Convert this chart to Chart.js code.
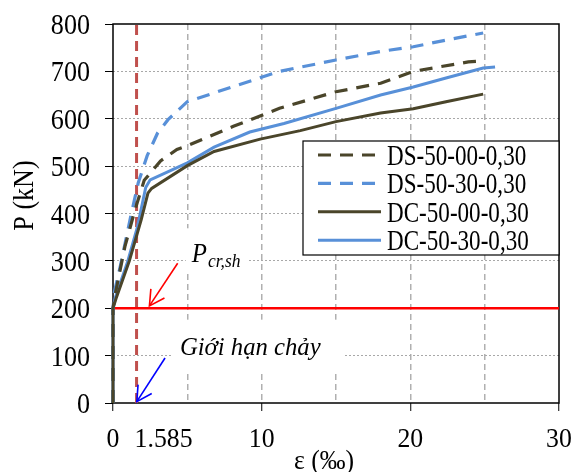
<!DOCTYPE html>
<html>
<head>
<meta charset="utf-8">
<script src="https://cdn.jsdelivr.net/npm/chart.js@4.4.1/dist/chart.umd.min.js"></script>
<style>
  html, body { margin: 0; padding: 0; background: #fff; }
</style>
</head>
<body>
<canvas id="pChart" width="575" height="472"></canvas>
<script>
// strain (‰) and load (kN)
const epsDS5000 = [0, 0, 0.15, 0.8, 1.5, 2.1, 3.2, 4.3, 5, 8.1, 11.2, 15, 18, 20.2, 23.9, 24.8];
const loadDS5000 = [0, 200, 230, 330, 410, 470, 511, 535, 543, 584, 622, 657, 675, 700, 720, 722];

const epsDS5030 = [0, 0, 0.1, 0.5, 1.2, 1.7, 2.3, 3, 3.7, 5, 8.1, 11.2, 15, 18, 20.2, 22.4, 24.9];
const loadDS5030 = [0, 200, 235, 290, 395, 465, 522, 570, 598, 636, 668, 700, 724, 742, 752, 766, 781];

const epsDC5000 = [0, 0, 0.2, 1.1, 1.9, 2.35, 2.6, 5, 6.8, 9.9, 12.6, 15, 18, 20.2, 22.4, 24.9];
const loadDC5000 = [0, 200, 220, 300, 387, 443, 453, 501, 531, 557, 575, 594, 612, 621, 636, 652];

const epsDC5030 = [0, 0, 0.15, 1.0, 1.63, 2.2, 2.5, 5, 6.8, 9.2, 11.5, 15, 18, 20.2, 22.4, 24.9, 25.7];
const loadDC5030 = [0, 200, 222, 300, 370, 455, 471, 507, 540, 572, 590, 622, 650, 667, 686, 707, 709];

const seriesNames = ["DS-50-00-0,30", "DS-50-30-0,30", "DC-50-00-0,30", "DC-50-30-0,30"];

const yieldStrain = 1.585;   // red dashed line
const crackLoad = 200;       // P_cr,sh red line

const yTicks = [0, 100, 200, 300, 400, 500, 600, 700, 800];
const xGridAt = [0, 5, 10, 15, 20, 25, 30];
const xTickLabels = [0, 10, 20, 30];

const serif = '"Liberation Serif", "Times New Roman", serif';
const darkCol = "#4a452a";
const blueCol = "#5890d8";

function pts(xs, ys) {
    return xs.map((x, i) => ({ x: x, y: ys[i] }));
}

function putText(ctx, txt, x, y, font, align, sx, color) {
    ctx.save();
    ctx.font = font;
    ctx.fillStyle = color || "#000";
    ctx.textAlign = align;
    ctx.textBaseline = "alphabetic";
    ctx.translate(x, y);
    ctx.scale(sx, 1);
    ctx.fillText(txt, 0, 0);
    ctx.restore();
}

function arrow(ctx, x1, y1, x2, y2, color) {
    ctx.save();
    ctx.strokeStyle = color;
    ctx.lineWidth = 1.6;
    ctx.beginPath();
    ctx.moveTo(x1, y1);
    ctx.lineTo(x2, y2);
    ctx.stroke();
    const a = Math.atan2(y2 - y1, x2 - x1), L = 17, w = 0.5;
    ctx.beginPath();
    ctx.moveTo(x2 - L * Math.cos(a - w), y2 - L * Math.sin(a - w));
    ctx.lineTo(x2, y2);
    ctx.lineTo(x2 - L * Math.cos(a + w), y2 - L * Math.sin(a + w));
    ctx.stroke();
    ctx.restore();
}

// annotation labels (data units), the white box hides the grid behind them
const notes = [
    { x: 5.3, y: 297, padL: 6, padR: 8, up: 34, down: 10 },
    { x: 4.5, y: 102, padL: 8, padR: 24, up: 35, down: 17 }
];
const arrows = [
    { from: [4.35, 295], to: [2.45, 205], color: "#ff0000" },
    { from: [3.5, 95], to: [1.6, 3], color: "#0000ff" }
];

function noteWidth(ctx, i) {
    ctx.save();
    let w;
    if (i === 0) {
        ctx.font = "italic 27px " + serif;
        w = ctx.measureText("P").width * 0.92;
        ctx.font = "italic 19px " + serif;
        w += 1 + ctx.measureText("cr,sh").width * 0.92;
    } else {
        ctx.font = "italic 26px " + serif;
        w = ctx.measureText("Giới hạn chảy").width * 0.95;
    }
    ctx.restore();
    return w;
}

const decor = {
    id: "decor",
    beforeDatasetsDraw(chart) {
        const { ctx, chartArea: a, scales: { x, y } } = chart;
        ctx.save();
        ctx.fillStyle = "#fff";
        notes.forEach((n, i) => {
            const px = x.getPixelForValue(n.x), py = y.getPixelForValue(n.y);
            const w = noteWidth(ctx, i);
            ctx.fillRect(px - n.padL, py - n.up, w + n.padL + n.padR, n.up + n.down);
        });
        ctx.strokeStyle = "#000";
        ctx.lineWidth = 1.5;
        ctx.strokeRect(a.left, a.top, a.right - a.left, a.bottom - a.top);
        ctx.restore();
    },
    afterDatasetsDraw(chart) {
        const { ctx, chartArea: a, scales: { x, y } } = chart;

        // legend box
        const lx = a.right - 256, ly = a.top + 117, lw = 256, lh = 114;
        ctx.save();
        ctx.fillStyle = "#fff";
        ctx.fillRect(lx, ly, lw, lh);
        ctx.strokeStyle = "#000";
        ctx.lineWidth = 1.2;
        ctx.strokeRect(lx, ly, lw, lh);
        chart.data.datasets.slice(0, 4).forEach((ds, i) => {
            const ry = ly + 14 + i * 28.4;
            ctx.save();
            ctx.strokeStyle = ds.borderColor;
            ctx.lineWidth = ds.borderWidth;
            ctx.setLineDash(ds.borderDash || []);
            ctx.beginPath();
            ctx.moveTo(lx + 15, ry);
            ctx.lineTo(lx + 78, ry);
            ctx.stroke();
            ctx.restore();
            putText(ctx, ds.label, lx + 84, ry + 10, "30px " + serif, "left", 0.77);
        });
        ctx.restore();

        // arrows
        arrows.forEach(ar => {
            arrow(ctx, x.getPixelForValue(ar.from[0]), y.getPixelForValue(ar.from[1]),
                x.getPixelForValue(ar.to[0]), y.getPixelForValue(ar.to[1]), ar.color);
        });

        // annotation text
        const p0x = x.getPixelForValue(notes[0].x), p0y = y.getPixelForValue(notes[0].y);
        putText(ctx, "P", p0x, p0y, "italic 27px " + serif, "left", 0.92);
        ctx.save();
        ctx.font = "italic 27px " + serif;
        const pw = ctx.measureText("P").width * 0.92;
        ctx.restore();
        putText(ctx, "cr,sh", p0x + pw + 1, p0y + 5, "italic 19px " + serif, "left", 0.92);
        putText(ctx, "Giới hạn chảy", x.getPixelForValue(notes[1].x), y.getPixelForValue(notes[1].y),
            "italic 26px " + serif, "left", 0.95);
    },
    afterDraw(chart) {
        const { ctx, chartArea: a, scales: { x, y } } = chart;
        yTicks.forEach(v => {
            putText(ctx, String(v), a.left - 23, y.getPixelForValue(v) + 10, "29px " + serif, "right", 0.9);
        });
        xTickLabels.forEach(v => {
            putText(ctx, String(v), x.getPixelForValue(v), 447, "28px " + serif, "center", 0.92);
        });
        putText(ctx, String(yieldStrain), x.getPixelForValue(yieldStrain) - 2, 447, "28px " + serif, "left", 0.92);

        // axis titles
        ctx.save();
        ctx.translate(33, (a.top + a.bottom) / 2 - 18);
        ctx.rotate(-Math.PI / 2);
        putText(ctx, "P (kN)", 0, 0, "29px " + serif, "center", 0.9);
        ctx.restore();
        putText(ctx, "ε (‰)", (a.left + a.right) / 2 - 12, 469, "28px " + serif, "center", 0.92);
    }
};

new Chart(document.getElementById("pChart").getContext("2d"), {
    type: "line",
    data: {
        datasets: [
            {
                label: seriesNames[0], data: pts(epsDS5000, loadDS5000),
                borderColor: darkCol, borderWidth: 3.2, borderDash: [13, 9]
            },
            {
                label: seriesNames[1], data: pts(epsDS5030, loadDS5030),
                borderColor: blueCol, borderWidth: 3.2, borderDash: [13, 9]
            },
            {
                label: seriesNames[2], data: pts(epsDC5000, loadDC5000),
                borderColor: darkCol, borderWidth: 3
            },
            {
                label: seriesNames[3], data: pts(epsDC5030, loadDC5030),
                borderColor: blueCol, borderWidth: 3
            },
            {
                label: "yield", data: pts([yieldStrain, yieldStrain], [0, 800]),
                borderColor: "#c0504d", borderWidth: 3, borderDash: [10, 6], order: 10
            },
            {
                label: "crack", data: pts([0, 30], [crackLoad, crackLoad]),
                borderColor: "#ff0000", borderWidth: 2.5, order: 10
            }
        ]
    },
    options: {
        responsive: false,
        animation: false,
        layout: { padding: { left: 0, right: 16, top: 24, bottom: 0 } },
        elements: {
            point: { radius: 0 },
            line: { tension: 0, fill: false }
        },
        datasets: { line: { clip: 5 } },
        plugins: {
            legend: { display: false },
            tooltip: { enabled: false }
        },
        scales: {
            x: {
                type: "linear", min: 0, max: 30,
                afterBuildTicks: s => { s.ticks = xGridAt.map(v => ({ value: v })); },
                afterFit: s => { s.height = 69; },
                ticks: { display: false },
                grid: {
                    color: c => (c.tick && c.tick.value > 0 && c.tick.value < 30) ? "#b0b0b0" : "rgba(0,0,0,0)",
                    lineWidth: 1.5,
                    drawTicks: true,
                    tickLength: 8,
                    tickWidth: 1,
                    tickBorderDash: [],
                    tickColor: c => (c.tick && xTickLabels.includes(c.tick.value)) ? "#000" : "rgba(0,0,0,0)"
                },
                border: { display: false, dash: [6, 4] }
            },
            y: {
                type: "linear", min: 0, max: 800,
                afterBuildTicks: s => { s.ticks = yTicks.map(v => ({ value: v })); },
                afterFit: s => { s.width = 113; },
                ticks: { display: false },
                grid: {
                    color: c => (c.tick && c.tick.value > 0 && c.tick.value < 800) ? "#a8a8a8" : "rgba(0,0,0,0)",
                    lineWidth: 1,
                    drawTicks: true,
                    tickLength: 8,
                    tickWidth: 1,
                    tickBorderDash: [],
                    tickColor: "#000"
                },
                border: { display: false, dash: [2, 2] }
            }
        }
    },
    plugins: [decor]
});
</script>
</body>
</html>
